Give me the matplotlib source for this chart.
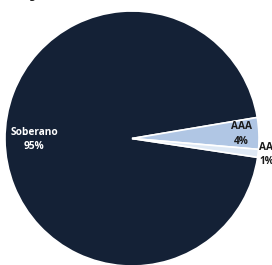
import numpy as np
import matplotlib.pyplot as plt

labels = ["Soberano", "AAA", "AA"]
shares = [95, 4, 1]
colors = ["#142136", "#b0c6e4", "#dfe9f5"]
text_colors = ["white", "#1a1a1a", "#1a1a1a"]
label_radius = [0.77, 0.86, 1.065]

W, H = 272, 265
fig = plt.figure(figsize=(W / 100, H / 100), dpi=100)
# pie spans x 5..259 px, y 11..266 px (from top)
ax = fig.add_axes([5 / W, (H - 266) / H, 254 / W, 255 / H])

wedges, _ = ax.pie(shares, colors=colors, startangle=351.5, counterclock=False,
                   radius=1, wedgeprops=dict(edgecolor="white", linewidth=1.2))
ax.set_xlim(-1, 1)
ax.set_ylim(-1, 1)
ax.set_aspect("auto")
ax.axis("off")

for w, lab, s, c, r in zip(wedges, labels, shares, text_colors, label_radius):
    mid = np.deg2rad((w.theta1 + w.theta2) / 2)
    ax.text(r * np.cos(mid), r * np.sin(mid), f"{lab}\n{s}%", ha="center", va="center",
            color=c, fontsize=7.3, fontweight="bold", family="Open Sans",
            linespacing=1.45, clip_on=False)

fig.text(0.0, (H + 3.5) / H, "Rating", ha="left", va="center", fontsize=7,
         fontweight="bold", color="#1a1a1a")

fig.savefig("out.png", dpi=100)
